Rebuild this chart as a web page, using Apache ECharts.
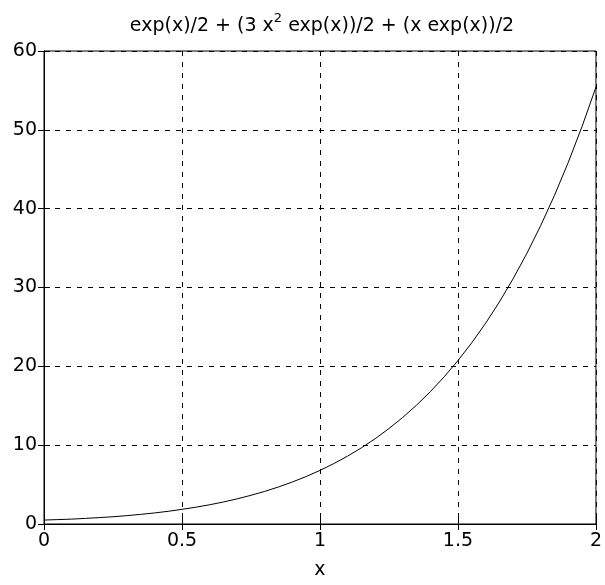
<!DOCTYPE html>
<html>
<head>
<meta charset="utf-8">
<script src="https://cdn.jsdelivr.net/npm/echarts@6/dist/echarts.min.js"></script>
<style>html,body{margin:0;padding:0;background:#fff}#c{width:605px;height:585px}</style>
</head>
<body>
<div id="c"></div>
<script>
const xValues = [0,0.05,0.1,0.15,0.2,0.25,0.3,0.35,0.4,0.45,0.5,0.55,0.6,0.65,0.7,0.75,0.8,0.85,0.9,0.95,1.0,1.05,1.1,1.15,1.2,1.25,1.3,1.35,1.4,1.45,1.5,1.55,1.6,1.65,1.7,1.75,1.8,1.85,1.9,1.95,2.0];
const yValues = [0.50,0.56,0.62,0.71,0.81,0.92,1.06,1.22,1.40,1.61,1.86,2.13,2.44,2.79,3.19,3.64,4.14,4.70,5.33,6.02,6.80,7.66,8.61,9.66,10.82,12.11,13.52,15.08,16.79,18.67,20.73,22.99,25.46,28.16,31.12,34.35,37.87,41.71,45.90,50.46,55.42];
const xTicks = {min:0, max:2, interval:0.5};
const yTicks = {min:0, max:60, interval:10};
const titleParts = ['exp(x)/2 + (3 x', '2', ' exp(x))/2 + (x exp(x))/2'];
const xName = 'x';

const font = '"DejaVu Sans", Arial, sans-serif';
const chart = echarts.init(document.getElementById('c'), null, {renderer:'canvas'});
const tickStyle = {show:true, inside:true, length:6, lineStyle:{color:'#000', width:1}};
const gridLine = {show:true, lineStyle:{color:'#000', type:[5,6], width:1}};
chart.setOption({
  animation:false,
  backgroundColor:'#fff',
  title:{
    text:'{a|'+titleParts[0]+'}{s|'+titleParts[1]+'}{a|'+titleParts[2]+'}',
    left:322, textAlign:'center', top:12, padding:0,
    textStyle:{rich:{
      a:{fontFamily:font, fontSize:19, fontWeight:'normal', color:'#000', lineHeight:24, verticalAlign:'bottom'},
      s:{fontFamily:font, fontSize:13, fontWeight:'normal', color:'#000', lineHeight:24, verticalAlign:'top', padding:[0,0,9,0]}
    }}
  },
  grid:{left:44, right:4, top:51, bottom:54, show:true, borderColor:'#000', borderWidth:1, backgroundColor:'#fff'},
  xAxis:[{
    type:'value', min:xTicks.min, max:xTicks.max, interval:xTicks.interval, position:'bottom',
    name:xName, nameLocation:'middle', nameGap:37,
    nameTextStyle:{fontFamily:font, fontSize:19, color:'#000'},
    axisLine:{show:true, lineStyle:{color:'#000', width:1}},
    axisTick:tickStyle,
    axisLabel:{fontFamily:font, fontSize:19, color:'#000', margin:8},
    splitLine:gridLine
  },{
    type:'value', min:xTicks.min, max:xTicks.max, interval:xTicks.interval, position:'top',
    axisLine:{show:true, lineStyle:{color:'#000'}}, axisTick:tickStyle, axisLabel:{show:false}, splitLine:{show:false}
  }],
  yAxis:[{
    type:'value', min:yTicks.min, max:yTicks.max, interval:yTicks.interval, position:'left',
    axisLine:{show:true, lineStyle:{color:'#000', width:1}},
    axisTick:tickStyle,
    axisLabel:{fontFamily:font, fontSize:19, color:'#000', margin:7},
    splitLine:gridLine
  },{
    type:'value', min:yTicks.min, max:yTicks.max, interval:yTicks.interval, position:'right',
    axisLine:{show:true, lineStyle:{color:'#000'}}, axisTick:tickStyle, axisLabel:{show:false}, splitLine:{show:false}
  }],
  series:[{
    type:'line', showSymbol:false, symbol:'none', smooth:false,
    data: xValues.map((x,i)=>[x, yValues[i]]),
    lineStyle:{color:'#000', width:1}
  }]
});
</script>
</body>
</html>
